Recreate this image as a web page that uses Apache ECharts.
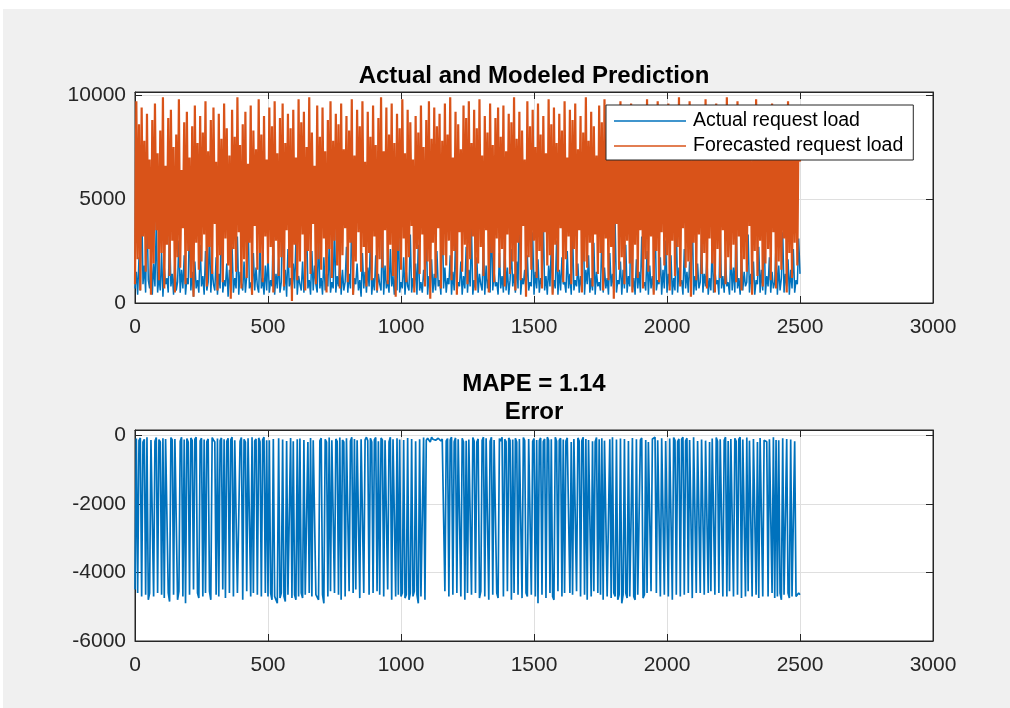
<!DOCTYPE html>
<html>
<head>
<meta charset="utf-8">
<title>Actual and Modeled Prediction</title>
<script src="https://cdn.jsdelivr.net/npm/echarts@6.0.0/dist/echarts.min.js"></script>
<style>
  html, body { margin: 0; padding: 0; background: #ffffff; }
  #panel { position: absolute; left: 3px; top: 9px; width: 1007px; height: 699px; background: #f0f0f0; }
  #chart { position: absolute; left: 0; top: 0; width: 1010px; height: 708px; }
</style>
</head>
<body>
<div id="panel"></div>
<div id="chart"></div>
<script>
// one sample every 5 units on the x axis (0 .. 2500)
const sampleStep = 5

const xTicks = [0, 500, 1000, 1500, 2000, 2500, 3000]
const loadTicks = [0, 5000, 10000]
const errorTicks = [-6000, -4000, -2000, 0]
const mapeValue = 1.14

const actualLoad = [
  700, 1500, 400, 2200, 600, 5200, 900, 1800, 500, 4600, 1100, 700, 2600, 400, 1900, 800, 3900, 500, 1300, 600, 2400, 300, 1700, 900, 1200,
  500, 3700, 800, 1400, 400, 2100, 600, 1000, 3000, 500, 1600, 700, 2300, 400, 1200, 900, 4100, 600, 1500, 300, 2000, 700, 1100, 500, 2800,
  800, 1300, 400, 2500, 600, 1000, 3400, 500, 1700, 900, 600, 2200, 400, 1400, 700, 4800, 500, 1100, 800, 1900, 300, 1600, 600, 2700, 500,
  1200, 700, 3200, 400, 1500, 900, 600, 2000, 500, 1300, 4300, 700, 1000, 400, 2400, 600, 1700, 800, 500, 2900, 700, 1200, 400, 1800, 600,
  2300, 500, 1100, 800, 3600, 400, 1400, 700, 2100, 500, 1000, 5500, 600, 1600, 300, 2600, 800, 1200, 500, 1900, 700, 3100, 400, 1300, 900,
  600, 2000, 500, 1500, 4000, 700, 1100, 400, 2500, 600, 1800, 900, 500, 3300, 700, 1200, 400, 2200, 600, 1400, 800, 2800, 500, 1000, 700,
  3800, 500, 1300, 800, 2100, 400, 1600, 600, 1000, 2700, 500, 1400, 700, 4500, 400, 1200, 900, 1900, 600, 1100, 300, 2400, 700, 1500, 500,
  1700, 800, 3000, 400, 1200, 600, 2300, 500, 1400, 900, 600, 3500, 400, 1800, 700, 1100, 500, 2600, 800, 1300, 400, 2000, 600, 4200, 500,
  1000, 700, 2200, 400, 1500, 800, 600, 3300, 500, 1200, 700, 1900, 400, 2800, 600, 1000, 500, 1600, 900, 3700, 400, 1300, 700, 2100, 500,
  1400, 600, 2500, 800, 1100, 400, 4900, 700, 1700, 500, 1200, 900, 2300, 400, 1500, 600, 3100, 500, 1000, 800, 2000, 400, 1300, 700, 2700,
  500, 1600, 800, 3600, 400, 1100, 700, 2200, 500, 1400, 900, 600, 2900, 400, 1800, 700, 1200, 500, 4400, 600, 1500, 800, 1000, 400, 2400,
  700, 1300, 500, 3200, 600, 1700, 400, 1100, 2600, 800, 1400, 500, 2000, 700, 5800, 400, 1200, 900, 1600, 500, 2300, 600, 1000, 800, 3400,
  400, 1500, 700, 2100, 500, 1200, 900, 4100, 600, 1300, 400, 1800, 800, 2700, 500, 1100, 700, 3000, 400, 1600, 600, 2200, 900, 1000, 500,
  2500, 700, 1400, 400, 3500, 600, 1100, 800, 1900, 500, 1300, 700, 4700, 400, 1600, 900, 2300, 500, 1200, 600, 2900, 400, 1500, 800, 1000,
  600, 3300, 500, 1700, 700, 1200, 400, 2400, 800, 1400, 600, 3900, 500, 1100, 900, 2000, 400, 1600, 700, 2800, 500, 1300, 800, 5100, 600,
  1200, 400, 2100, 700, 1500, 500, 3200, 800, 1000, 600, 2500, 400, 1800, 700, 1300, 500, 4300, 600, 1100, 900, 2200, 400, 1600, 700, 3000,
  500, 1400, 800, 2300, 400, 1200, 600, 3700, 500, 1700, 900, 1100, 400, 2600, 700, 1500, 500, 2000, 800, 4600, 400, 1300, 600, 1900, 700,
  1000, 3100, 500, 1400, 800, 2200, 400, 1200, 600, 2800, 500, 1600, 900, 1100, 400, 3500, 700, 1300, 500, 2100, 800, 1000, 400, 2500, 600,
  1700, 500, 4000, 700, 1200, 400, 2300, 600, 1500, 800, 1000, 3300, 500, 1400, 700, 2000, 400, 1100, 900, 2700, 500, 1600, 600, 3800, 400,
  1300, 800, 2200, 500, 1500, 700, 1000, 2900, 400, 1800, 600, 1200, 3400, 500, 1400, 800, 2100, 400, 1600, 700, 2600, 500, 1100, 900, 3100,
  1400
]

const forecastLoad = [
  900, 9700, 2100, 8600, 600, 9400, 3200, 7800, 1500, 9100, 2600, 6900, 400, 8800, 1900, 9600, 3500, 7200, 1100, 8300, 2400, 9900, 700, 6600, 2800,
  8900, 1300, 9300, 3000, 7500, 500, 8100, 2200, 9800, 1700, 6400, 3600, 8700, 900, 9200, 2500, 7000, 1200, 8500, 300, 9500, 2900, 7700, 1600, 9000,
  2000, 8200, 3300, 9700, 800, 7300, 2700, 8800, 1400, 9400, 3800, 6800, 600, 9100, 2300, 7900, 1000, 9600, 3100, 8400, 1800, 7100, 200, 9300, 2600,
  8000, 1500, 9900, 3400, 7600, 700, 8600, 2100, 9200, 1200, 6700, 2900, 9500, 400, 8300, 3700, 7400, 1600, 9800, 2400, 8100, 1000, 9000, 3200, 6900,
  1900, 9400, 2700, 8500, 500, 9700, 3000, 7200, 1300, 8900, 2200, 9600, 800, 7700, 3500, 9100, 1700, 8400, 100, 9300, 2800, 7000, 1100, 9800, 2000,
  8700, 3300, 9200, 600, 7500, 2500, 9900, 1400, 8200, 3800, 6600, 900, 9500, 2100, 8000, 1600, 9400, 3100, 7300, 500, 8800, 2600, 9700, 1200, 7800,
  3000, 9100, 1800, 8600, 700, 9600, 2300, 7400, 3600, 9000, 1000, 8300, 2900, 9800, 400, 7100, 2000, 9300, 3400, 8500, 1500, 9700, 2700, 6800, 800,
  9200, 2400, 8000, 1100, 9500, 3200, 7600, 600, 8900, 2100, 9900, 1700, 7300, 3500, 9400, 900, 8100, 2800, 9600, 1300, 7700, 300, 9100, 2500, 8400,
  1600, 9800, 3100, 7200, 1000, 9300, 2200, 8700, 3700, 6900, 500, 9000, 2600, 8200, 1400, 9500, 3300, 7500, 800, 8800, 2000, 9700, 200, 7900, 2900,
  9400, 1200, 8500, 3600, 9100, 700, 7800, 2300, 9600, 1800, 8100, 3000, 9900, 1100, 7000, 2500, 9200, 400, 8600, 3400, 7400, 1500, 9500, 2800, 8900,
  900, 9700, 2100, 7700, 3200, 9300, 600, 8400, 1900, 9800, 2700, 7100, 1300, 9000, 3500, 8200, 500, 9600, 2400, 7600, 1000, 8900, 3100, 9400, 1700,
  8000, 2600, 9500, 800, 7300, 3300, 9100, 1400, 8700, 2000, 9900, 600, 7900, 2900, 9200, 1100, 8300, 3700, 6900, 300, 9700, 2200, 8500, 1600, 9300,
  3000, 7500, 1200, 9600, 2500, 8100, 700, 9000, 3400, 7200, 1800, 9800, 2300, 8600, 400, 9400, 2800, 7700, 1500, 9100, 3600, 8300, 1000, 9700, 2100,
  7000, 3200, 9300, 900, 8800, 2600, 9600, 1300, 7400, 3500, 9000, 500, 8200, 2000, 9900, 1700, 7800, 2900, 9200, 800, 8500, 3300, 7100, 1400, 9500,
  2400, 8700, 600, 9800, 3100, 7600, 1100, 9100, 2700, 8300, 200, 9400, 3800, 7300, 1600, 9700, 2200, 8000, 900, 9000, 3000, 7500, 1900, 9600, 500,
  8400, 2800, 9200, 1200, 7700, 3500, 9500, 700, 8600, 2100, 9800, 1500, 7200, 3200, 9100, 400, 8100, 2500, 9700, 1000, 7900, 3400, 9300, 1800, 8800,
  2300, 9600, 600, 7400, 3000, 9000, 1300, 8500, 2700, 9900, 800, 7600, 3600, 9400, 1700, 8200, 2000, 9700, 300, 7000, 2900, 9200, 1100, 8700, 3300,
  9500, 1400, 8000, 2400, 9800, 700, 7300, 3100, 9100, 1900, 8600, 500, 9600, 2600, 7800, 1200, 9300, 3500, 8300, 900, 9900, 2200, 7100, 1600, 9000,
  2800, 8400, 1000, 9700, 3200, 7500, 600, 9200, 2100, 8800, 1500, 9500, 3700, 7200, 400, 8900, 2500, 9800, 1300, 7700, 3000, 9100, 800, 8200, 1900,
  9400, 2600, 7900, 1100, 9600, 3400, 8100, 700, 9300, 2000, 7400, 1600, 9000, 3100, 8600, 500, 9700, 2400, 7600, 1200, 9200, 2900, 8300, 1800, 9500,
  6800
]

const predictionError = [
  -4500, -100, -4600, -150, -80, -4700, -200, -120, -4650, -60, -4800, -4600, -140, -90, -4700, -180, -70, -4600, -130, -200, -4650, -90, -4750, -110, -160,
  -4600, -4850, -70, -140, -4650, -110, -90, -4800, -4550, -180, -60, -4700, -130, -4900, -100, -200, -4650, -80, -150, -4500, -120, -60, -4600, -4750, -170,
  -90, -4700, -130, -4600, -190, -110, -4550, -4800, -70, -140, -200, -4650, -100, -4700, -160, -80, -4500, -120, -4750, -180, -90, -4600, -140, -60, -4700,
  -150, -100, -4600, -4650, -180, -70, -4800, -120, -200, -4550, -90, -140, -4700, -60, -4600, -170, -110, -4650, -80, -190, -4700, -130, -60, -4600, -150,
  -4700, -150, -4600, -4800, -110, -4700, -4650, -4900, -90, -4750, -4600, -130, -4700, -4850, -170, -4650, -4600, -80, -4750, -180, -4650, -4800, -120, -4700, -100,
  -4600, -4750, -140, -4650, -4700, -200, -4600, -80, -4700, -150, -110, -4650, -4600, -4800, -160, -90, -4650, -4900, -120, -200, -4700, -70, -4550, -150, -130,
  -4600, -110, -180, -4650, -70, -4800, -140, -200, -4700, -90, -130, -4550, -170, -60, -4600, -110, -4500, -150, -190, -4750, -120, -80, -4600, -140, -60,
  -160, -4650, -90, -200, -4600, -130, -70, -4550, -180, -4650, -80, -140, -4700, -150, -100, -4500, -190, -60, -4800, -120, -170, -4700, -90, -4650, -130,
  -4700, -4600, -140, -4750, -4650, -80, -4800, -4600, -110, -4700, -4550, -180, -4650, -4900, -120, -4700, -4650, -70, -4800, -150, -90, -130, -200, -60, -120,
  -80, -150, -200, -90, -130, -170, -110, -60, -4550, -170, -100, -4700, -140, -60, -4650, -190, -80, -4600, -120, -150, -4700, -90, -200, -4800, -160,
  -4600, -130, -90, -4650, -70, -170, -4600, -200, -110, -4750, -4550, -150, -60, -4700, -90, -140, -4800, -180, -60, -4650, -140, -110, -4600, -4750, -100,
  -170, -60, -4700, -120, -190, -4550, -80, -150, -4800, -130, -4600, -90, -200, -4650, -110, -130, -4750, -70, -160, -4600, -4700, -110, -60, -4650, -180,
  -100, -4700, -140, -4900, -160, -80, -4650, -190, -110, -4750, -60, -150, -4600, -120, -4700, -4800, -60, -180, -4550, -150, -90, -4700, -130, -4600, -170,
  -80, -130, -4600, -200, -4650, -110, -100, -4550, -80, -170, -4700, -160, -60, -4650, -110, -4800, -140, -90, -4700, -180, -4550, -190, -70, -4600, -120,
  -4650, -90, -4800, -160, -150, -4700, -4650, -120, -4750, -60, -4600, -4700, -130, -4800, -4650, -100, -4900, -4650, -110, -4600, -4750, -170, -4700, -4650, -80,
  -4700, -4800, -120, -4650, -4600, -140, -80, -4750, -4650, -140, -4600, -200, -170, -4550, -110, -90, -60, -4600, -150, -160, -4700, -90, -130, -4650, -170,
  -180, -4700, -100, -130, -4800, -70, -150, -4650, -190, -110, -4700, -120, -60, -4650, -170, -90, -4600, -140, -190, -4750, -60, -110, -4600, -170, -130,
  -4600, -130, -80, -4650, -160, -190, -4600, -200, -4550, -100, -150, -4650, -70, -180, -4600, -120, -90, -4700, -150, -60, -4700, -170, -4550, -110, -140,
  -4700, -90, -180, -4650, -120, -60, -4750, -130, -170, -4700, -70, -4550, -160, -140, -4700, -110, -80, -4650, -200, -4750, -80, -130, -4700, -150, -100,
  -190, -4700, -120, -170, -4600, -60, -4750, -140, -4700, -150, -4600, -4800, -90, -4650, -4700, -110, -4600, -4750, -130, -4700, -4650, -180, -4700, -4650, -4600,
  -4650
]

const axisColor = '#262626'
const gridColor = '#dfdfdf'
const fontName = '"Liberation Sans", Arial, sans-serif'

const toPairs = (values) => values.map((v, i) => [i * sampleStep, v])

const chartDom = document.getElementById('chart')
const chart = echarts.init(chartDom, null, { renderer: 'canvas' })

const xAxisFor = (gridIndex, onTop) => ({
  type: 'value',
  gridIndex,
  position: onTop ? 'top' : 'bottom',
  min: xTicks[0],
  max: xTicks[xTicks.length - 1],
  interval: 500,
  axisLine: { show: true, onZero: false, lineStyle: { color: axisColor, width: 1 } },
  axisTick: { show: true, inside: true, length: 7, lineStyle: { color: axisColor } },
  axisLabel: {
    show: !onTop,
    color: axisColor,
    fontSize: 21,
    fontFamily: fontName,
    margin: 14,
    formatter: (v) => String(v)
  },
  splitLine: { show: !onTop, lineStyle: { color: gridColor, width: 1 } }
})

const yAxisFor = (gridIndex, onRight, min, max, interval) => ({
  type: 'value',
  gridIndex,
  position: onRight ? 'right' : 'left',
  min,
  max,
  interval,
  axisLine: { show: true, onZero: false, lineStyle: { color: axisColor, width: 1 } },
  axisTick: { show: true, inside: true, length: 7, lineStyle: { color: axisColor } },
  axisLabel: {
    show: !onRight,
    color: axisColor,
    fontSize: 21,
    fontFamily: fontName,
    margin: 9,
    showMaxLabel: false,
    formatter: (v) => String(v)
  },
  splitLine: { show: !onRight, lineStyle: { color: gridColor, width: 1 } }
})

const titleStyle = { fontSize: 24, fontWeight: 'bold', color: '#000', fontFamily: fontName }

const option = {
  backgroundColor: 'transparent',
  animation: false,
  title: [
    { text: 'Actual and Modeled Prediction', left: 529, top: 59, textAlign: 'center', textStyle: titleStyle },
    { text: 'MAPE = ' + mapeValue.toFixed(2), left: 529, top: 367, textAlign: 'center', textStyle: titleStyle },
    { text: 'Error', left: 529, top: 395, textAlign: 'center', textStyle: titleStyle }
  ],
  legend: {
    show: true,
    left: 606,
    top: 105,
    orient: 'vertical',
    data: ['Actual request load', 'Forecasted request load'],
    icon: 'rect',
    itemWidth: 72,
    itemHeight: 1.5,
    itemGap: 5,
    padding: [6, 10, 4, 8],
    backgroundColor: '#ffffff',
    borderColor: axisColor,
    borderWidth: 1,
    borderRadius: 0,
    textStyle: { fontSize: 19.5, fontFamily: fontName, color: '#000', lineHeight: 20, padding: [0, 0, 0, 2] }
  },
  grid: [
    { left: 135, top: 92, width: 798, height: 211, show: true, backgroundColor: '#ffffff', borderColor: axisColor, borderWidth: 1 },
    { left: 135, top: 430, width: 798, height: 211, show: true, backgroundColor: '#ffffff', borderColor: axisColor, borderWidth: 1 }
  ],
  xAxis: [
    xAxisFor(0, false),
    xAxisFor(0, true),
    xAxisFor(1, false),
    xAxisFor(1, true)
  ],
  yAxis: [
    yAxisFor(0, false, loadTicks[0], 10150, 5000),
    yAxisFor(0, true, loadTicks[0], 10150, 5000),
    yAxisFor(1, false, errorTicks[0], 150, 2000),
    yAxisFor(1, true, errorTicks[0], 150, 2000)
  ],
  series: [
    {
      name: 'Actual request load',
      type: 'line',
      xAxisIndex: 0,
      yAxisIndex: 0,
      data: toPairs(actualLoad),
      symbol: 'none',
      lineStyle: { color: '#0072BD', width: 1.5 },
      itemStyle: { color: '#0072BD' }
    },
    {
      name: 'Forecasted request load',
      type: 'line',
      xAxisIndex: 0,
      yAxisIndex: 0,
      data: toPairs(forecastLoad),
      symbol: 'none',
      lineStyle: { color: '#D95319', width: 2.2 },
      itemStyle: { color: '#D95319' }
    },
    {
      name: 'Error',
      type: 'line',
      xAxisIndex: 2,
      yAxisIndex: 2,
      data: toPairs(predictionError),
      symbol: 'none',
      lineStyle: { color: '#0072BD', width: 1.7 },
      itemStyle: { color: '#0072BD' }
    }
  ]
}

chart.setOption(option)
</script>
</body>
</html>
